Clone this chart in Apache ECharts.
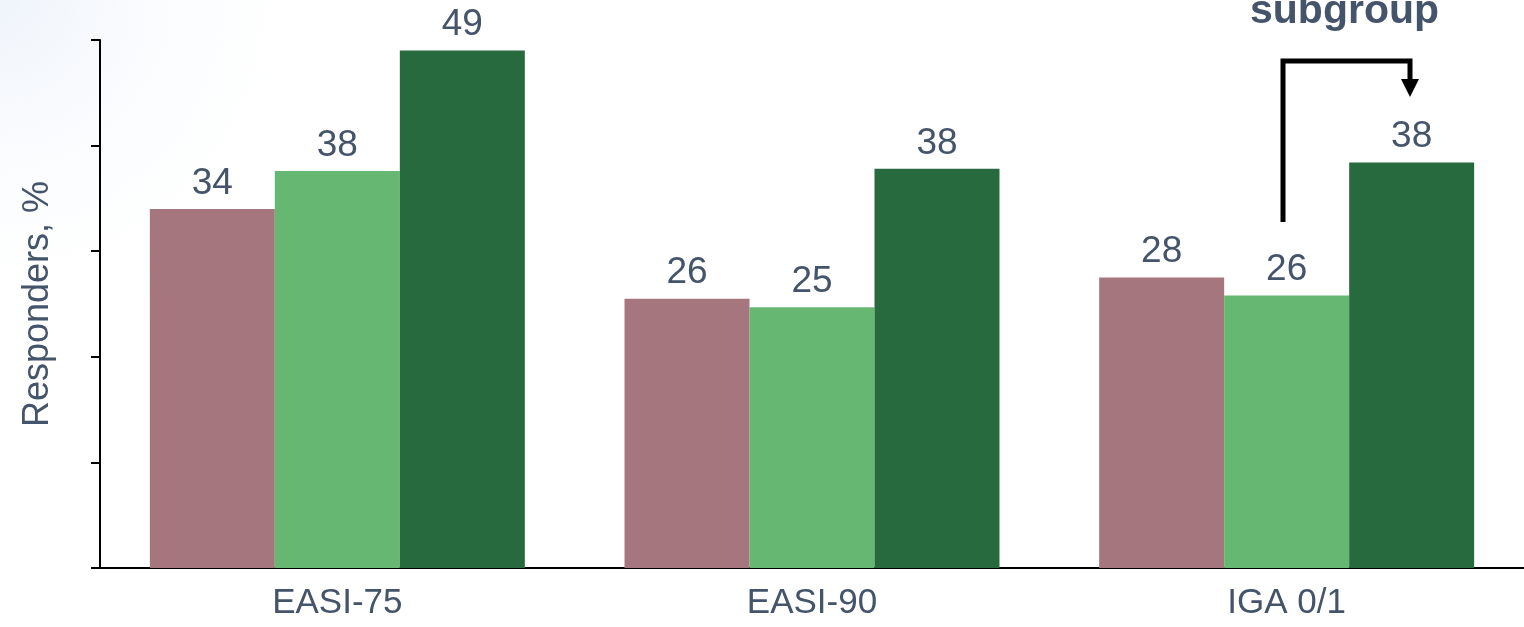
<!DOCTYPE html>
<html>
<head>
<meta charset="utf-8">
<script src="https://cdn.jsdelivr.net/npm/echarts@6/dist/echarts.min.js"></script>
<style>
html,body{margin:0;padding:0;background:#fff;}
#chart{width:1524px;height:627px;}
</style>
</head>
<body>
<div id="chart"></div>
<script>
const categories = ['EASI-75', 'EASI-90', 'IGA 0/1'];
// bar heights (labels show the rounded values)
const seriesA = [34.0, 25.5, 27.5];
const seriesB = [37.6, 24.7, 25.8];
const seriesC = [49.0, 37.8, 38.4];
const yTicks = [0, 10, 20, 30, 40, 50];

const textColor = '#44546A';
const font = '"Liberation Sans", Arial, sans-serif';

const chart = echarts.init(document.getElementById('chart'));
const labelCfg = {show: true, position: 'top', distance: 7, color: textColor, fontSize: 37, fontFamily: font,
  formatter: p => String(Math.round(p.value))};
function mk(data, color) {
  return {type: 'bar', data: data, barGap: '0%', barCategoryGap: '21%', itemStyle: {color: color}, label: labelCfg, silent: true};
}
chart.setOption({
  animation: false,
  grid: {left: 100, right: 0, top: 40, bottom: 59},
  xAxis: {
    type: 'category', data: categories,
    axisLine: {lineStyle: {color: '#000', width: 2}},
    axisTick: {show: false},
    axisLabel: {color: textColor, fontSize: 35, fontFamily: font, margin: 18}
  },
  yAxis: {
    type: 'value', min: yTicks[0], max: yTicks[yTicks.length - 1], interval: 10,
    name: 'Responders, %', nameLocation: 'middle', nameGap: 44, nameRotate: 90,
    nameTextStyle: {color: textColor, fontSize: 36, fontFamily: font},
    axisLine: {show: true, lineStyle: {color: '#000', width: 2}},
    axisTick: {show: true, length: 9, lineStyle: {color: '#000', width: 2}},
    axisLabel: {show: false},
    splitLine: {show: false}
  },
  series: [mk(seriesA, '#A5767E'), mk(seriesB, '#66B771'), mk(seriesC, '#276A3E')],
  graphic: [
    {type: 'rect', z: -10, shape: {x: 0, y: 0, width: 700, height: 350},
     style: {fill: new echarts.graphic.RadialGradient(0, 0, 1, [{offset: 0, color: 'rgba(225,235,248,0.55)'}, {offset: 1, color: 'rgba(255,255,255,0)'}])}},
    {type: 'text', left: 1250, top: -9, style: {text: 'subgroup', fill: textColor, font: 'bold 41px ' + font}},
    {type: 'polyline', shape: {points: [[1283, 222], [1283, 61], [1410, 61], [1410, 80]]}, style: {stroke: '#000', lineWidth: 5, fill: null}},
    {type: 'polygon', shape: {points: [[1401, 79], [1419, 79], [1410, 97]]}, style: {fill: '#000'}}
  ]
});
</script>
</body>
</html>
